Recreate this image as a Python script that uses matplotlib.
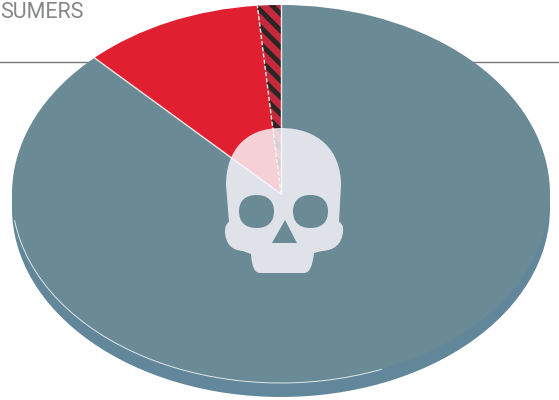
#consumers pie with skull overlay
import numpy as np
import matplotlib
matplotlib.use('Agg')
import matplotlib.pyplot as plt
from matplotlib.path import Path
from matplotlib.patches import PathPatch, Arc

#data, percent
labels = ['other', 'red', 'hatched']
values = [87.8, 10.8, 1.4]
colors = ['#6a8a96', '#e01f30', '#c42a3c']
side_color = '#62879a'
title_text = 'SUMERS'

plt.rcParams['hatch.linewidth'] = 3.5

fig = plt.figure(figsize=(5.59, 4.0), dpi=100)

#pixel layer for rule + text, same coords as the image
bg = fig.add_axes([0, 0, 1, 1])
bg.set_xlim(0, 559)
bg.set_ylim(400, 0)
bg.axis('off')
bg.plot([0, 559], [62, 62], color='#777777', lw=1.0)
bg.text(0, 18, title_text, fontsize=15.5, family='Roboto',
        color='#85878a', ha='left', va='baseline')

#pie axes, squashed to an ellipse
left, right, top, bottom = 12, 550, 5, 383
ax = fig.add_axes([left/559, 1-bottom/400, (right-left)/559, (bottom-top)/400])
ax.patch.set_alpha(0)

#side of the disc first
ax.pie([1], colors=[side_color], radius=1, center=(0, -0.074), startangle=90)
wedges, _ = ax.pie(values, labels=None, colors=colors, radius=1, startangle=90,
                   counterclock=False, wedgeprops={'linewidth': 0})
ax.set_aspect('auto')
ax.set_xlim(-1, 1)
ax.set_ylim(-1, 1)
for s in ax.patches:
    s.set_clip_on(False)

wedges[2].set_hatch('\\\\')
wedges[2].set_edgecolor('#2b2526')
wedges[2].set_linewidth(0)

#white seams between the wedges, no outer rim
ang = 90 - np.cumsum(values) / np.sum(values) * 360
for a, ls in zip(ang, ['-', (0, (3, 1.5)), '-']):
    ax.plot([0, np.cos(np.radians(a))], [0, np.sin(np.radians(a))],
            color='#f3e9e6', lw=1.0, ls=ls, clip_on=False)
ax.add_patch(Arc((0, 0), 2, 2, theta1=188, theta2=292, color='#dfe8ea', lw=0.7, clip_on=False))

#skull, in image pixels
fig_skull = [
    (Path.MOVETO, (281, 128)),
    (Path.CURVE4, (318, 128)), (Path.CURVE4, (341, 150)), (Path.CURVE4, (341, 185)),
    (Path.LINETO, (339, 222)),
    (Path.CURVE3, (344, 224)), (Path.CURVE3, (343, 232)),
    (Path.CURVE3, (341, 250)), (Path.CURVE3, (322, 251)),
    (Path.LINETO, (314, 253)),
    (Path.CURVE3, (312, 273)), (Path.CURVE3, (304, 273)),
    (Path.LINETO, (260, 273)),
    (Path.CURVE3, (252, 273)), (Path.CURVE3, (251, 254)),
    (Path.LINETO, (243, 251)),
    (Path.CURVE3, (226, 250)), (Path.CURVE3, (225, 232)),
    (Path.CURVE3, (225, 224)), (Path.CURVE3, (229, 222)),
    (Path.LINETO, (226, 185)),
    (Path.CURVE4, (226, 150)), (Path.CURVE4, (246, 128)), (Path.CURVE4, (281, 128)),
    (Path.CLOSEPOLY, (281, 128)),
]
#holes go the other way round
def eye(x0, x1, y0, y1):
    xm, ym = (x0+x1)/2, (y0+y1)/2
    kx, ky = (x1-x0)*0.32, (y1-y0)*0.32
    return [
        (Path.MOVETO, (x0, ym)),
        (Path.CURVE4, (x0, ym+ky)), (Path.CURVE4, (xm-kx, y1)), (Path.CURVE4, (xm, y1)),
        (Path.CURVE4, (xm+kx, y1)), (Path.CURVE4, (x1, ym+ky)), (Path.CURVE4, (x1, ym)),
        (Path.CURVE4, (x1, ym-ky)), (Path.CURVE4, (xm+kx, y0)), (Path.CURVE4, (xm, y0)),
        (Path.CURVE4, (xm-kx, y0)), (Path.CURVE4, (x0, ym-ky)), (Path.CURVE4, (x0, ym)),
        (Path.CLOSEPOLY, (x0, ym)),
    ]
nose = [
    (Path.MOVETO, (285, 220)), (Path.LINETO, (272, 243)), (Path.LINETO, (297, 243)),
    (Path.CLOSEPOLY, (285, 220)),
]
parts = fig_skull + eye(239, 274, 195, 228) + eye(293, 328, 195, 228) + nose
codes = [c for c, p in parts]
verts = [p for c, p in parts]

over = fig.add_axes([0, 0, 1, 1])
over.set_xlim(0, 559)
over.set_ylim(400, 0)
over.axis('off')
over.add_patch(PathPatch(Path(verts, codes), facecolor='#faf8fc', edgecolor='none', alpha=0.82))

fig.savefig('out.png', dpi=100)
